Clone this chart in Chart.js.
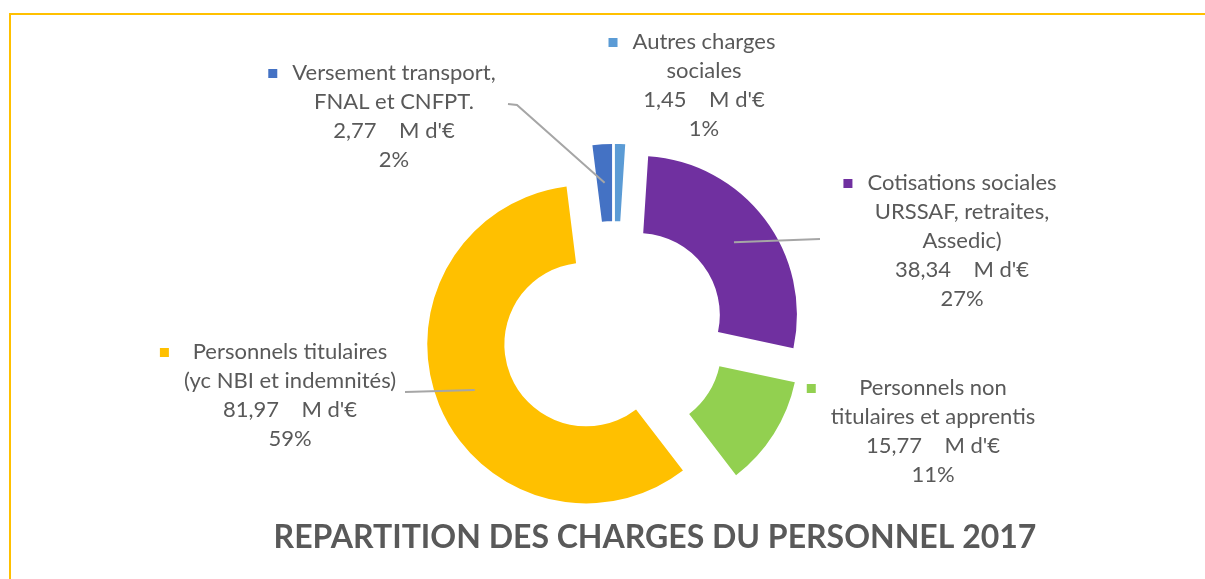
<!DOCTYPE html>
<html lang="fr">
<head>
<meta charset="utf-8">
<title>Répartition des charges du personnel 2017</title>
<script src="https://cdn.jsdelivr.net/npm/chart.js@4.4.1/dist/chart.umd.min.js"></script>
<style>
  html, body { margin: 0; padding: 0; background: #fff; }
  .frame { position: relative; width: 1205px; height: 579px; overflow: hidden; }
  .frame::before {
    content: '';
    position: absolute;
    left: 9px; top: 13px; right: -20px; bottom: -20px;
    border-top: 2px solid #ffc000;
    border-left: 2px solid #ffc000;
  }
  canvas { position: absolute; left: 0; top: 0; }
</style>
</head>
<body>
<div class="frame">
  <canvas id="charges" width="1205" height="579"></canvas>
</div>
<script>
const categories = [
  ['Cotisations sociales', 'URSSAF, retraites,', 'Assedic)'],
  ['Personnels non', 'titulaires et apprentis'],
  ['Personnels titulaires', '(yc NBI et indemnités)'],
  ['Versement transport,', 'FNAL et CNFPT.'],
  ['Autres charges', 'sociales']
];
const amounts = [38.34, 15.77, 81.97, 2.77, 1.45]; // M d'€
const shares = ['27%', '11%', '59%', '2%', '1%'];
const sliceColors = ['#7030a0', '#92d050', '#ffc000', '#4472c4', '#5b9bd5'];
const chartTitle = 'REPARTITION DES CHARGES DU PERSONNEL 2017';

const textColor = '#595959';
const leaderColor = '#a6a6a6';
const labelFont = '22px Lato';
const lineStep = 29;
const sliceOffset = 30;

// label block centre (first line) and leader bends, relative to the doughnut centre
const labelSpots = [
  { dx: 348, dy: -150, leader: [[206, -94]] },
  { dx: 319, dy: 55, leader: null },
  { dx: -324, dy: 19, leader: [[-209, 59]] },
  { dx: -220, dy: -260, leader: [[-106, -229], [-97, -228]] },
  { dx: 90, dy: -291, leader: null }
];

const formatAmount = value => value.toFixed(2).replace('.', ',') + '\u00a0\u00a0\u00a0\u00a0M d\'€';

// pull every slice out along its bisector, keeping the ring thickness
const ArcElement = Chart.registry.getElement('arc');
const drawArcBase = ArcElement.prototype.draw;
ArcElement.prototype.draw = function (ctx) {
  const mid = (this.startAngle + this.endAngle) / 2;
  ctx.save();
  ctx.translate(Math.cos(mid) * sliceOffset, Math.sin(mid) * sliceOffset);
  drawArcBase.call(this, ctx);
  ctx.restore();
};

const sliceLabels = {
  id: 'sliceLabels',
  afterDatasetsDraw(chart) {
    const { ctx } = chart;
    const arcs = chart.getDatasetMeta(0).data;

    ctx.save();
    arcs.forEach((arc, i) => {
      const { x, y, startAngle, endAngle, innerRadius, outerRadius } = arc;
      const mid = (startAngle + endAngle) / 2;
      const spot = labelSpots[i];

      if (spot.leader) {
        const reach = sliceOffset + (innerRadius + outerRadius) / 2;
        ctx.beginPath();
        ctx.moveTo(x + spot.leader[0][0], y + spot.leader[0][1]);
        spot.leader.slice(1).forEach(p => ctx.lineTo(x + p[0], y + p[1]));
        ctx.lineTo(x + Math.cos(mid) * reach, y + Math.sin(mid) * reach);
        ctx.strokeStyle = leaderColor;
        ctx.lineWidth = 2;
        ctx.stroke();
      }

      const lines = [...categories[i], formatAmount(amounts[i]), shares[i]];
      const cx = x + spot.dx;
      const top = y + spot.dy;
      ctx.font = labelFont;
      ctx.fillStyle = textColor;
      ctx.textAlign = 'center';
      ctx.textBaseline = 'middle';
      lines.forEach((line, k) => ctx.fillText(line, cx, top + k * lineStep));

      const widest = Math.max(...lines.map(line => ctx.measureText(line).width));
      ctx.fillStyle = sliceColors[i];
      ctx.fillRect(cx - widest / 2 - 24, top - 4, 9, 9);
    });

    ctx.font = 'bold 32px Lato';
    ctx.fillStyle = textColor;
    ctx.textAlign = 'center';
    ctx.textBaseline = 'middle';
    ctx.fillText(chartTitle, arcs[0].x + 41, arcs[0].y + 205);
    ctx.restore();
  }
};

new Chart(document.getElementById('charges'), {
  type: 'doughnut',
  data: {
    labels: categories,
    datasets: [
      {
        data: amounts,
        backgroundColor: sliceColors,
        borderWidth: 0,
        hoverOffset: 0
      }
    ]
  },
  options: {
    animation: false,
    responsive: false,
    events: [],
    radius: 159,
    cutout: '51.5%',
    rotation: 3.7,
    layout: {
      padding: { left: 23, right: 0, top: 87, bottom: 0 }
    },
    plugins: {
      legend: { display: false },
      tooltip: { enabled: false },
      title: { display: false }
    }
  },
  plugins: [sliceLabels]
});
</script>
</body>
</html>
